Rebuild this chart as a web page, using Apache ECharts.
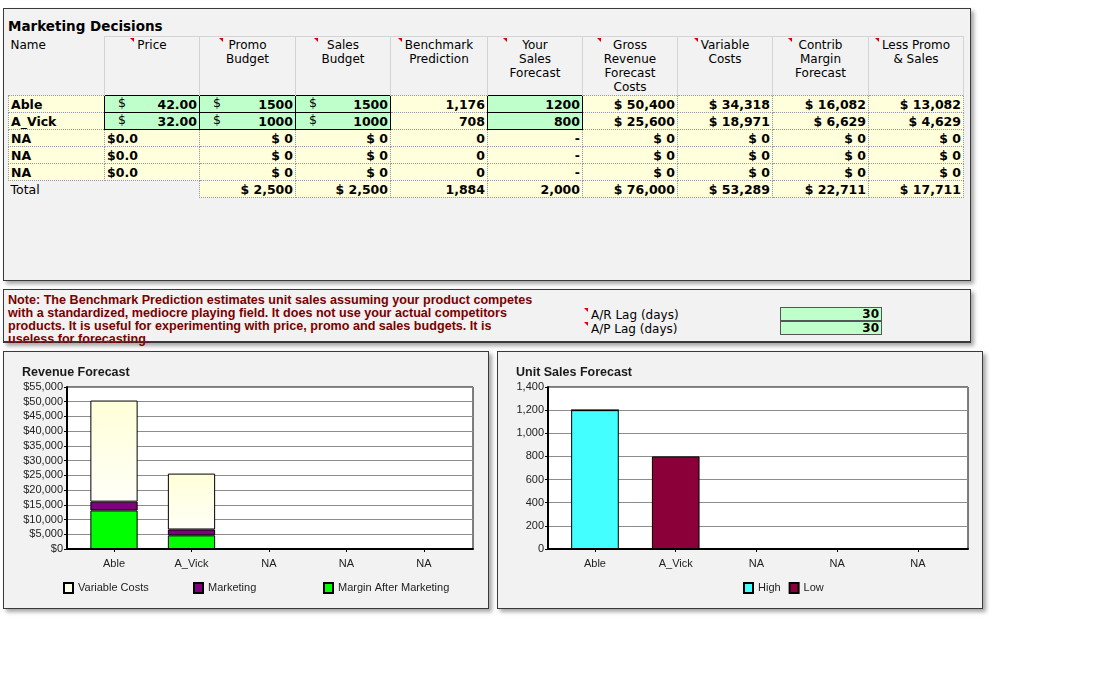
<!DOCTYPE html>
<html>
<head>
<meta charset="utf-8">
<title>Marketing Decisions</title>
<script src="https://cdn.jsdelivr.net/npm/echarts@6/dist/echarts.min.js"></script>
<style>
  body { margin: 0; background: #fff; font-family: "DejaVu Sans", Verdana, sans-serif; color: #000; }
  .panel { position: absolute; background: #f2f2f2; border: 1px solid #3a3a3a; box-shadow: 3px 3px 4px rgba(0,0,0,0.35); box-sizing: border-box; }
  #title { position: absolute; left: 8px; top: 18px; font-weight: bold; font-size: 13.5px; }
  #tbl { position: absolute; left: 8px; top: 36px; border-collapse: collapse; table-layout: fixed; width: 955px; }
  #tbl td { padding: 0 2px; font-size: 12.5px; white-space: nowrap; overflow: hidden; height: 16px; line-height: 15px; }
  #tbl tr.hdr td { height: 57px; vertical-align: top; text-align: center; font-size: 12px; line-height: 14px; font-weight: normal;
                   border-left: 1px solid #d4d4d4; border-right: 1px solid #d4d4d4; border-top: 1px solid #d4d4d4; padding-top: 1px; }
  #tbl tr.hdr td.nm { border: none; text-align: left; }
  .cm { position: relative; display: inline-block; }
  .cm::before { content: ""; position: absolute; left: -7px; top: 0; border-top: 4px solid #e00000; border-left: 4px solid transparent; }
  td.y { background: #ffffdc; border: 1px dotted #9a9a9a; font-weight: bold; text-align: right; }
  td.g { background: #bfffcc; border: 1px solid #000; font-weight: bold; text-align: right; }
  td.l { text-align: left; }
  td.t { background: #f2f2f2; border: none; }
  .d { float: left; font-weight: normal; position: relative; top: -2px; margin-left: 11px; }
  #note { position: absolute; left: 8px; top: 294px; font-family: "Liberation Sans", Arial, sans-serif; font-weight: bold;
          font-size: 12.6px; line-height: 13px; color: #7a0000; white-space: nowrap; }
  .lag { position: absolute; left: 589px; font-size: 12px; }
  .lagv { position: absolute; left: 780px; width: 102px; height: 14px; background: #bfffcc; border: 1px solid #555;
          box-sizing: border-box; text-align: right; font-weight: bold; font-size: 12px; line-height: 13px; padding-right: 2px; }
  .chart { position: absolute; top: 351px; width: 486px; height: 258px; }
</style>
</head>
<body>
<div class="panel" style="left:3px;top:8px;width:968px;height:273px;"></div>
<div id="title">Marketing Decisions</div>
<table id="tbl">
  <colgroup>
    <col style="width:96px"><col style="width:95px"><col style="width:96px"><col style="width:95px"><col style="width:97px">
    <col style="width:95px"><col style="width:95px"><col style="width:95px"><col style="width:96px"><col style="width:95px">
  </colgroup>
  <tbody id="tbody"></tbody>
</table>

<div class="panel" style="left:3px;top:289px;width:968px;height:54px;"></div>
<div id="note">Note: The Benchmark Prediction estimates unit sales assuming your product competes<br>with a standardized, mediocre playing field. It does not use your actual competitors<br>products. It is useful for experimenting with price, promo and sales budgets. It is<br>useless for forecasting.</div>
<div style="position:absolute;left:3px;top:341px;width:968px;height:1px;background:#3a3a3a;"></div>
<div class="lag" style="top:308px;"><span class="cm" style="left:2px">A/R Lag (days)</span></div>
<div class="lag" style="top:322px;"><span class="cm" style="left:2px">A/P Lag (days)</span></div>
<div class="lagv" id="arLag" style="top:307px;"></div>
<div class="lagv" id="apLag" style="top:321px;"></div>

<div class="panel" style="left:3px;top:351px;width:486px;height:258px;"></div>
<div class="panel" style="left:497px;top:351px;width:486px;height:258px;"></div>
<div class="chart" id="rev" style="left:3px;"></div>
<div class="chart" id="unit" style="left:497px;"></div>

<script>
// --- values ---
var products = ['Able', 'A_Vick', 'NA', 'NA', 'NA'];
var headers = ['Price', 'Promo<br>Budget', 'Sales<br>Budget', 'Benchmark<br>Prediction', 'Your<br>Sales<br>Forecast',
               'Gross<br>Revenue<br>Forecast<br>Costs', 'Variable<br>Costs', 'Contrib<br>Margin<br>Forecast', 'Less Promo<br>&amp; Sales'];
var price = [42, 32, 0, 0, 0];
var promoBudget = [1500, 1000, 0, 0, 0];
var salesBudget = [1500, 1000, 0, 0, 0];
var benchmark = [1176, 708, 0, 0, 0];
var yourForecast = [1200, 800, null, null, null];
var grossRevenue = [50400, 25600, 0, 0, 0];
var variableCosts = [34318, 18971, 0, 0, 0];
var contribMargin = [16082, 6629, 0, 0, 0];
var lessPromoSales = [13082, 4629, 0, 0, 0];
var totals = [2500, 2500, 1884, 2000, 76000, 53289, 22711, 17711];
var arLag = 30, apLag = 30;

var marketing = promoBudget.map(function (v, i) { return v + salesBudget[i]; });
var unitHigh = [1200, 0, 0, 0, 0];
var unitLow = [0, 800, 0, 0, 0];

function num(v) { return v.toLocaleString('en-US'); }
function money(v) { return '$ ' + num(v); }

// --- build the sheet ---
var html = '<tr class="hdr"><td class="nm">Name</td>';
headers.forEach(function (h) { html += '<td><span class="cm">' + h + '</span></td>'; });
html += '</tr>';
products.forEach(function (p, i) {
  var inp = i < 2;
  html += '<tr><td class="y l">' + p + '</td>';
  if (inp) {
    html += '<td class="g"><span class="d">$</span>' + price[i].toFixed(2) + '</td>';
    html += '<td class="g"><span class="d">$</span>' + promoBudget[i] + '</td>';
    html += '<td class="g"><span class="d">$</span>' + salesBudget[i] + '</td>';
  } else {
    html += '<td class="y l">$' + price[i].toFixed(1) + '</td>';
    html += '<td class="y">' + money(promoBudget[i]) + '</td>';
    html += '<td class="y">' + money(salesBudget[i]) + '</td>';
  }
  html += '<td class="y">' + num(benchmark[i]) + '</td>';
  html += inp ? '<td class="g">' + yourForecast[i] + '</td>' : '<td class="y">-</td>';
  html += '<td class="y">' + money(grossRevenue[i]) + '</td>';
  html += '<td class="y">' + money(variableCosts[i]) + '</td>';
  html += '<td class="y">' + money(contribMargin[i]) + '</td>';
  html += '<td class="y">' + money(lessPromoSales[i]) + '</td></tr>';
});
html += '<tr><td class="t" style="font-weight:normal">Total</td><td class="t"></td>';
totals.forEach(function (v, k) {
  html += '<td class="y">' + ((k === 2 || k === 3) ? num(v) : money(v)) + '</td>';
});
html += '</tr>';
document.getElementById('tbody').innerHTML = html;
document.getElementById('arLag').textContent = arLag;
document.getElementById('apLag').textContent = apLag;

// --- charts ---
var font = '"Liberation Sans", Arial, sans-serif';

// one grid carries the frame and value axis, an inner one carries the categories
function barOption(title, plot, inner, yMax, yStep, yFmt, legends, series) {
  return {
    animation: false,
    textStyle: { fontFamily: font },
    title: { text: title, left: 14, top: 10, textStyle: { fontSize: 12.5, fontWeight: 'bold', color: '#1a1a1a', fontFamily: font } },
    legend: legends.map(function (l) {
      return { data: l.data, left: l.left, top: 226, icon: 'rect', itemWidth: 9, itemHeight: 10, itemGap: 8,
               textStyle: { fontSize: 11, color: '#222' } };
    }),
    grid: [
      { left: plot[0], top: 36, width: plot[1], height: 162, show: true, backgroundColor: '#fff', borderColor: '#000', borderWidth: 1 },
      { left: inner[0], top: 36, width: inner[1], height: 162 }
    ],
    xAxis: [
      { type: 'value', gridIndex: 0, min: 0, max: 1, axisLabel: { show: false }, axisTick: { show: false }, splitLine: { show: false },
        axisLine: { show: true, lineStyle: { color: '#000', width: 2 } } },
      { type: 'category', gridIndex: 1, data: products, axisLine: { show: false },
        axisTick: { show: true, alignWithLabel: true, length: 3, lineStyle: { color: '#000' } },
        axisLabel: { color: '#222', fontSize: 11, margin: 9 } }
    ],
    yAxis: [
      { type: 'value', gridIndex: 0, min: 0, max: yMax, interval: yStep,
        axisLine: { show: true, lineStyle: { color: '#000', width: 2 } },
        axisTick: { show: true, length: 3, lineStyle: { color: '#000' } },
        splitLine: { lineStyle: { color: '#8c8c8c' } },
        axisLabel: { color: '#222', fontSize: 11, margin: 4, formatter: yFmt } },
      { type: 'value', gridIndex: 1, min: 0, max: yMax, show: false, splitLine: { show: false } }
    ],
    series: series.map(function (s) {
      return { name: s.name, type: 'bar', stack: 's', xAxisIndex: 1, yAxisIndex: 1, barWidth: s.barWidth, data: s.data,
               itemStyle: { color: s.color, borderColor: '#000', borderWidth: 1 } };
    })
  };
}

var revChart = echarts.init(document.getElementById('rev'));
revChart.setOption(barOption('Revenue Forecast', [64, 406], [72.25, 387.5], 55000, 5000,
  function (v) { return '$' + num(v); },
  [{ data: ['Variable Costs'], left: 55 }, { data: ['Marketing'], left: 185 }, { data: ['Margin After Marketing'], left: 315 }],
  [
    { name: 'Margin After Marketing', data: lessPromoSales, color: '#00ff00', barWidth: '61%' },
    { name: 'Marketing', data: marketing, color: '#800080' },
    { name: 'Variable Costs', data: variableCosts,
      color: new echarts.graphic.LinearGradient(0, 0, 0, 1, [{ offset: 0, color: '#ffffd8' }, { offset: 1, color: '#fffff8' }]) }
  ]));

var unitChart = echarts.init(document.getElementById('unit'));
unitChart.setOption(barOption('Unit Sales Forecast', [51, 420], [57.6, 403.75], 1400, 200,
  function (v) { return num(v); },
  [{ data: ['High', 'Low'], left: 241 }],
  [
    { name: 'High', data: unitHigh, color: '#44ffff', barWidth: '59%' },
    { name: 'Low', data: unitLow, color: '#8b0038' }
  ]));
</script>
</body>
</html>
